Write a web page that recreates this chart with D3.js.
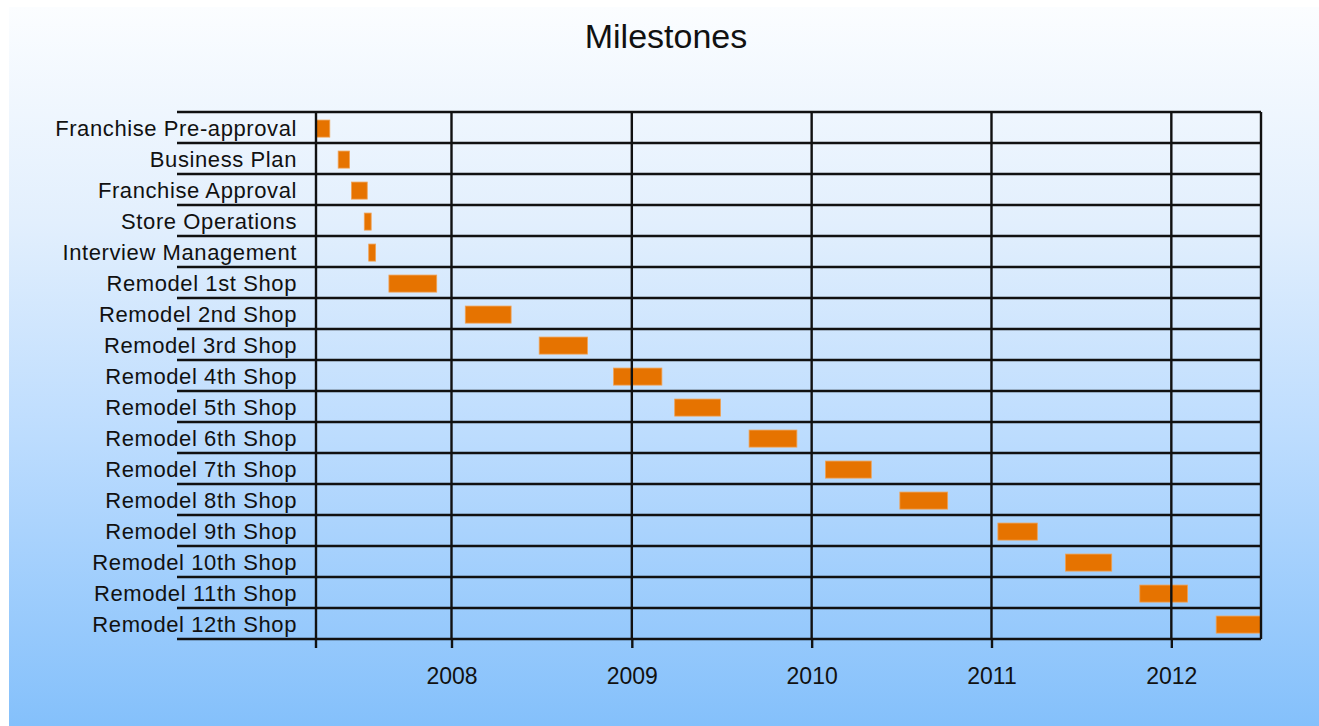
<!DOCTYPE html>
<html>
<head>
<meta charset="utf-8">
<script src="https://cdn.jsdelivr.net/npm/d3@7"></script>
<style>
  body { margin: 0; background: #ffffff; }
  svg { display: block; font-family: "Liberation Sans", Arial, sans-serif; }
</style>
</head>
<body>
<svg id="chart" width="1319" height="726"></svg>
<script>
// Milestone tasks, top to bottom
const tasks = [
  "Franchise Pre-approval",
  "Business Plan",
  "Franchise Approval",
  "Store Operations",
  "Interview Management",
  "Remodel 1st Shop",
  "Remodel 2nd Shop",
  "Remodel 3rd Shop",
  "Remodel 4th Shop",
  "Remodel 5th Shop",
  "Remodel 6th Shop",
  "Remodel 7th Shop",
  "Remodel 8th Shop",
  "Remodel 9th Shop",
  "Remodel 10th Shop",
  "Remodel 11th Shop",
  "Remodel 12th Shop"
];

const startDates = [
  "2007-04-01", "2007-05-16", "2007-06-12", "2007-07-08", "2007-07-17",
  "2007-08-27", "2008-01-29", "2008-06-27", "2008-11-25", "2009-03-29",
  "2009-08-27", "2010-01-29", "2010-06-29", "2011-01-14", "2011-05-31",
  "2011-10-29", "2012-04-01"
];

const endDates = [
  "2007-04-29", "2007-06-08", "2007-07-14", "2007-07-22", "2007-07-31",
  "2007-12-02", "2008-05-01", "2008-10-03", "2009-03-03", "2009-06-30",
  "2009-12-02", "2010-05-02", "2010-10-04", "2011-04-04", "2011-09-02",
  "2012-02-03", "2012-07-01"
];

const yearTicks = ["2008-01-01", "2009-01-01", "2010-01-01", "2011-01-01", "2012-01-01"];
const timeRange = ["2007-04-01", "2012-07-01"];
const chartTitle = "Milestones";

const parse = d3.utcParse("%Y-%m-%d");
const rows = tasks.map((t, i) => ({
  task: t,
  start: parse(startDates[i]),
  end: parse(endDates[i])
}));

const W = 1319, H = 726;
const plot = { left: 316, right: 1261, top: 112, bottom: 639 };
const labelLineLeft = 177;

const svg = d3.select("#chart");

// Background gradient panel
const defs = svg.append("defs");
const grad = defs.append("linearGradient")
  .attr("id", "bg").attr("x1", 0).attr("y1", 0).attr("x2", 0).attr("y2", 1);
grad.append("stop").attr("offset", "0%").attr("stop-color", "#fbfdff");
grad.append("stop").attr("offset", "30%").attr("stop-color", "#e2effd");
grad.append("stop").attr("offset", "60%").attr("stop-color", "#bcdcfe");
grad.append("stop").attr("offset", "100%").attr("stop-color", "#84c0fb");

svg.append("rect").attr("width", W).attr("height", H).attr("fill", "#ffffff");
svg.append("rect")
  .attr("x", 9).attr("y", 7)
  .attr("width", W - 9).attr("height", H - 7)
  .attr("fill", "url(#bg)");

// Scales
const x = d3.scaleUtc()
  .domain(timeRange.map(parse))
  .range([plot.left, plot.right]);

const y = d3.scaleBand()
  .domain(tasks)
  .range([plot.top, plot.bottom])
  .paddingInner(0).paddingOuter(0);

const lineColor = "#111111";
const lineWidth = 2.4;

// Title
svg.append("text")
  .attr("x", 666).attr("y", 48)
  .attr("text-anchor", "middle")
  .attr("font-size", 34)
  .attr("fill", "#111")
  .text(chartTitle);

// Bars
svg.append("g")
  .selectAll("rect")
  .data(rows)
  .join("rect")
  .attr("x", d => x(d.start))
  .attr("width", d => Math.max(0, x(d.end) - x(d.start)))
  .attr("y", d => y(d.task) + y.bandwidth() * 0.26)
  .attr("height", y.bandwidth() * 0.55)
  .attr("fill", "#e67300")
  .attr("stroke", "#f0a255")
  .attr("stroke-width", 0.8);

// Horizontal row lines (extend into the label area)
const rowEdges = tasks.map(t => y(t)).concat([plot.bottom]);
svg.append("g")
  .selectAll("line")
  .data(rowEdges)
  .join("line")
  .attr("x1", labelLineLeft).attr("x2", plot.right)
  .attr("y1", d => d).attr("y2", d => d)
  .attr("stroke", lineColor).attr("stroke-width", lineWidth);

// Vertical year lines, left axis and right border
const years = yearTicks.map(parse);
svg.append("g")
  .selectAll("line")
  .data(years)
  .join("line")
  .attr("x1", d => x(d)).attr("x2", d => x(d))
  .attr("y1", plot.top).attr("y2", plot.bottom)
  .attr("stroke", lineColor).attr("stroke-width", lineWidth);

svg.append("line")
  .attr("x1", plot.left).attr("x2", plot.left)
  .attr("y1", plot.top).attr("y2", plot.bottom + 9)
  .attr("stroke", lineColor).attr("stroke-width", lineWidth);

svg.append("line")
  .attr("x1", plot.right).attr("x2", plot.right)
  .attr("y1", plot.top).attr("y2", plot.bottom)
  .attr("stroke", lineColor).attr("stroke-width", lineWidth);

// Bottom time axis
const xAxis = d3.axisBottom(x)
  .tickValues(years)
  .tickFormat(d3.utcFormat("%Y"))
  .tickSize(9)
  .tickSizeOuter(0);

const axisG = svg.append("g")
  .attr("transform", `translate(0,${plot.bottom})`)
  .call(xAxis);
axisG.select(".domain").remove();
axisG.selectAll(".tick line")
  .attr("stroke", lineColor).attr("stroke-width", lineWidth);
axisG.selectAll(".tick text")
  .attr("y", 45).attr("dy", null)
  .attr("font-size", 23)
  .attr("font-family", "\"Liberation Sans\", Arial, sans-serif")
  .attr("fill", "#111");

// Task labels
svg.append("g")
  .selectAll("text")
  .data(tasks)
  .join("text")
  .attr("x", 297)
  .attr("y", d => y(d) + y.bandwidth() / 2 + 8)
  .attr("text-anchor", "end")
  .attr("font-size", 22)
  .attr("letter-spacing", 0.6)
  .attr("fill", "#111")
  .text(d => d);
</script>
</body>
</html>
